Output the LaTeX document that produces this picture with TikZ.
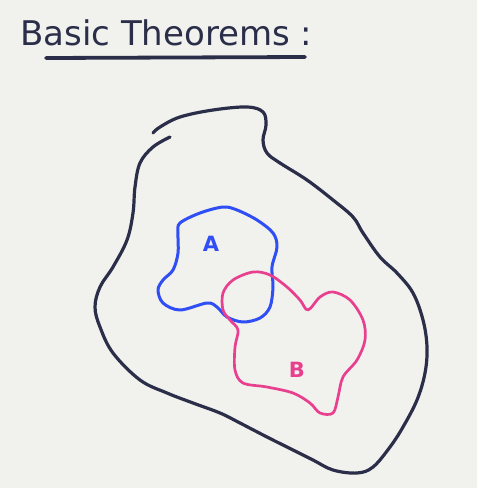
\documentclass[tikz,border=0pt]{standalone}
\usepackage{fontspec}
\newfontfamily\hand{DejaVu Sans}
\definecolor{board}{HTML}{F1F1EE}
\definecolor{ink}{HTML}{2B2E48}
\definecolor{blueink}{HTML}{2F4FF5}
\definecolor{pinkink}{HTML}{E8408E}
\tikzset{
  outerline/.style={ink, line width=3.2pt, line cap=round, line join=round},
  setA/.style={blueink, line width=3pt, line cap=round, line join=round},
  setB/.style={pinkink, line width=2.7pt, line cap=round, line join=round},
  lbl/.style={font=\hand\bfseries\fontsize{21}{21}\selectfont, inner sep=0pt},
}
\begin{document}
\begin{tikzpicture}[x=1pt,y=-1pt]
\fill[board] (0,0) rectangle (477,488);
\useasboundingbox (0,0) rectangle (477,488);
% title
\node[font=\hand\fontsize{34}{34}\selectfont, anchor=west, ink, inner sep=0pt] (title) at (20,33) {Basic Theorems :};
\draw[ink, line width=3.8pt, line cap=round] (46,58) -- (305,57);
% universe outline
\draw[outerline] plot[smooth, tension=0.6] coordinates {
 (153,133) (160,127) (180,117) (213,110) (247,107) (263,112) (266,125)
 (263,140) (267,153) (280,163) (307,180) (333,200) (353,217) (363,233)
 (380,257) (397,273) (413,293) (423,320) (427,347) (425,373) (417,400)
 (403,427) (390,447) (373,467) (357,473) (333,470) (313,460) (293,450)
 (267,437) (240,423) (220,413) (193,403) (167,393) (140,380) (113,353)
 (100,327) (95,307) (100,287) (113,267) (127,240) (133,213) (135,187)
 (140,163) (153,147) (170,137)};
% set A
\draw[setA] plot[smooth cycle, tension=0.55] coordinates {
 (180,223) (200,213) (223,207) (237,210) (257,220) (273,233) (277,247)
 (272,267) (273,287) (270,307) (260,318) (243,322) (227,317) (217,307)
 (207,303) (180,310) (163,303) (158,290) (163,280) (173,270) (178,253)
 (178,233)};
\node[lbl, blueink] (labelA) at (211,244) {A};
% set B
\draw[setB] plot[smooth cycle, tension=0.55] coordinates {
 (223,293) (233,280) (253,272) (270,275) (287,287) (300,300) (308,310)
 (320,297) (333,292) (350,300) (363,320) (365,340) (357,360) (343,377)
 (338,397) (333,413) (320,413) (310,403) (293,393) (267,387) (243,383)
 (235,370) (235,347) (238,330) (230,320) (223,310)};
\node[lbl, pinkink] (labelB) at (297,370) {B};
\end{tikzpicture}
\end{document}
